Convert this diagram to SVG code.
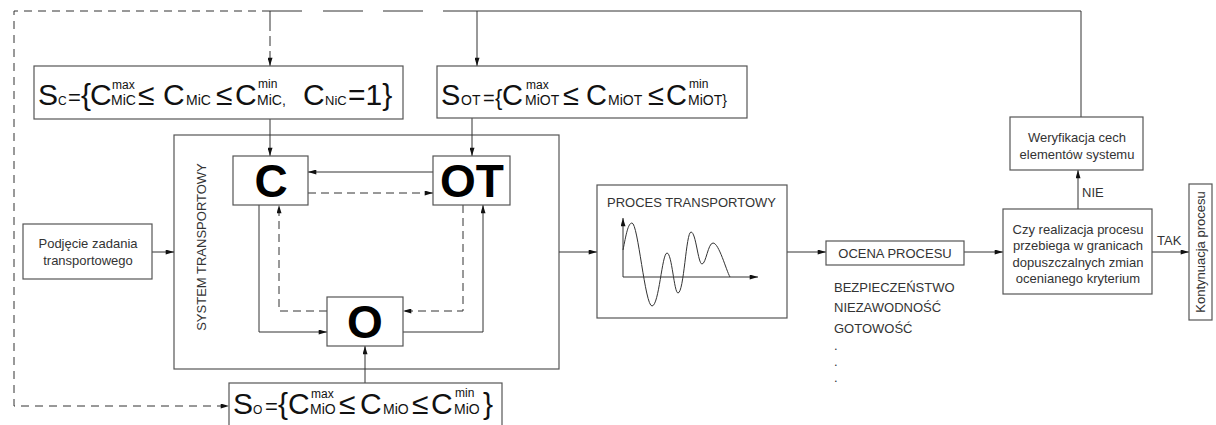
<svg xmlns="http://www.w3.org/2000/svg" width="1216" height="425" viewBox="0 0 1216 425">
<style>
.box{fill:#fff;stroke:#555;stroke-width:1.2}
.frame{fill:none;stroke:#555;stroke-width:1.2}
.ln{fill:none;stroke:#333;stroke-width:1}
.dash{stroke-dasharray:8 5}
.t{font-family:"Liberation Sans",Arial,sans-serif;fill:#333;font-size:13px}
.f{font-family:"Liberation Sans",Arial,sans-serif;fill:#111}
.big{font-family:"Liberation Sans",Arial,sans-serif;font-weight:bold;fill:#000;font-size:46px;text-anchor:middle}
</style>
<defs>
<marker id="ah" viewBox="0 0 10 6" refX="10" refY="3" markerWidth="9" markerHeight="5" orient="auto" markerUnits="userSpaceOnUse"><path d="M0,0 L10,3 L0,6 z" fill="#111"/></marker>
</defs>
<rect width="1216" height="425" fill="#fff"/>

<g id="node-system">
<rect class="frame" x="174" y="135" width="385" height="234"/>
<text class="t" transform="translate(206,247) rotate(-90)" text-anchor="middle" font-size="12.5" fill="#666">SYSTEM TRANSPORTOWY</text>
</g>

<g id="connectors">
<path class="ln" d="M270,11 H14 V406 H229" stroke-dasharray="8 6" marker-end="url(#ah)"/>
<path class="ln" d="M270,11 H443" stroke-dasharray="32 21 40 20 40 20"/>
<path class="ln" d="M1081,117 V11 H443"/>
<path class="ln" d="M270,11 V66" stroke-dasharray="20 5 10 5" marker-end="url(#ah)"/>
<path class="ln" d="M477,11 V66" marker-end="url(#ah)"/>
<path class="ln" d="M270,119 V156" marker-end="url(#ah)"/>
<path class="ln" d="M472,118 V156" marker-end="url(#ah)"/>
<path class="ln" d="M433,172 H308" marker-end="url(#ah)"/>
<path class="ln dash" d="M308,193 H433" marker-end="url(#ah)"/>
<path class="ln" d="M259,205 V332 H327" marker-end="url(#ah)"/>
<path class="ln dash" d="M327,311 H279 V205" marker-end="url(#ah)"/>
<path class="ln dash" d="M463,205 V311 H403" marker-end="url(#ah)"/>
<path class="ln" d="M403,332 H483 V205" marker-end="url(#ah)"/>
<path class="ln" d="M365,383 V346" marker-end="url(#ah)"/>
<path class="ln" d="M152,252 H174" marker-end="url(#ah)"/>
<path class="ln" d="M559,252 H597" marker-end="url(#ah)"/>
<path class="ln" d="M787,252 H826" marker-end="url(#ah)"/>
<path class="ln" d="M964,252 H1003" marker-end="url(#ah)"/>
<path class="ln" d="M1078,209 V170" marker-end="url(#ah)"/>
<path class="ln" d="M1152,252 H1189" marker-end="url(#ah)"/>
<text class="t" x="1082" y="197">NIE</text>
<text class="t" x="1157" y="245">TAK</text>
</g>

<g id="node-sc">
<rect class="box" x="34" y="66" width="369" height="53"/>
<text class="f" y="105" font-size="30">
<tspan x="38">S</tspan><tspan x="58" font-size="12">C</tspan><tspan x="68" font-size="22">=</tspan><tspan x="81">{</tspan><tspan x="90">C</tspan><tspan x="112" y="89" font-size="12">max</tspan><tspan x="111" y="105" font-size="14">MiC</tspan><tspan x="138">≤</tspan><tspan x="163">C</tspan><tspan x="186" font-size="14">MiC</tspan><tspan x="216">≤</tspan><tspan x="235">C</tspan><tspan x="258" y="88" font-size="12">min</tspan><tspan x="257" y="105" font-size="14">MiC,</tspan><tspan x="303">C</tspan><tspan x="325" font-size="13">NiC</tspan><tspan x="348">=1}</tspan>
</text>
</g>

<g id="node-sot">
<rect class="box" x="437" y="66" width="310" height="52"/>
<text class="f" y="105" font-size="29">
<tspan x="441">S</tspan><tspan x="461" font-size="14">OT</tspan><tspan x="483" font-size="20">=</tspan><tspan x="495" font-size="22">{</tspan><tspan x="502">C</tspan><tspan x="526" y="89" font-size="12">max</tspan><tspan x="525" y="105" font-size="14">MiOT</tspan><tspan x="563">≤</tspan><tspan x="586">C</tspan><tspan x="608" font-size="14">MiOT</tspan><tspan x="648">≤</tspan><tspan x="666">C</tspan><tspan x="689" y="88" font-size="12">min</tspan><tspan x="688" y="105" font-size="14">MiOT}</tspan>
</text>
</g>

<g id="node-so">
<rect class="box" x="229" y="383" width="273" height="50"/>
<text class="f" y="414" font-size="30">
<tspan x="233">S</tspan><tspan x="253" font-size="12">O</tspan><tspan x="265" font-size="22">=</tspan><tspan x="278">{</tspan><tspan x="288">C</tspan><tspan x="311" y="398" font-size="12">max</tspan><tspan x="310" y="414" font-size="14">MiO</tspan><tspan x="339">≤</tspan><tspan x="360">C</tspan><tspan x="383" font-size="14">MiO</tspan><tspan x="412">≤</tspan><tspan x="431">C</tspan><tspan x="455" y="397" font-size="12">min</tspan><tspan x="454" y="414" font-size="14">MiO</tspan><tspan x="483">}</tspan>
</text>
</g>

<g id="node-c">
<rect class="box" x="233" y="156" width="75" height="49"/>
<text class="big" x="271" y="197">C</text>
</g>

<g id="node-ot">
<rect class="box" x="433" y="156" width="77" height="49"/>
<text class="big" x="472" y="197">OT</text>
</g>

<g id="node-o">
<rect class="box" x="327" y="297" width="76" height="49"/>
<text class="big" x="365" y="338">O</text>
</g>

<g id="node-podjecie">
<rect class="box" x="23" y="224" width="129" height="55"/>
<text class="t" x="88" y="248" text-anchor="middle">Podjęcie zadania</text>
<text class="t" x="88" y="265" text-anchor="middle">transportowego</text>
</g>

<g id="node-proces">
<rect class="box" x="597" y="185" width="190" height="133"/>
<text class="t" x="607" y="207">PROCES TRANSPORTOWY</text>
<path class="ln" d="M623,277 V218" marker-end="url(#ah)"/>
<path class="ln" d="M623,277 H758" marker-end="url(#ah)"/>
<path class="ln" d="M623,250 C626,235 628,223 632,223 C638,223 645,306 652,306 C659,306 662,253 667,253 C672,253 674,293 678,293 C684,293 686,232 691,232 C696,232 698,264 702,264 C706,264 708,243 713,243 C719,243 726,270 730,277"/>
</g>

<g id="node-ocena">
<rect class="box" x="826" y="241" width="138" height="24"/>
<text class="t" x="895" y="258" text-anchor="middle">OCENA PROCESU</text>
</g>

<g id="node-kryteria">
<text class="t" x="834" y="292">BEZPIECZEŃSTWO</text>
<text class="t" x="834" y="312">NIEZAWODNOŚĆ</text>
<text class="t" x="834" y="333">GOTOWOŚĆ</text>
<text class="t" x="834" y="350" fill="#999">.</text>
<text class="t" x="834" y="366" fill="#999">.</text>
<text class="t" x="834" y="382" fill="#999">.</text>
</g>

<g id="node-decyzja">
<rect class="box" x="1003" y="209" width="149" height="85"/>
<text class="t" x="1078" y="234" text-anchor="middle">Czy realizacja procesu</text>
<text class="t" x="1078" y="250" text-anchor="middle">przebiega w granicach</text>
<text class="t" x="1078" y="267" text-anchor="middle">dopuszczalnych zmian</text>
<text class="t" x="1078" y="283" text-anchor="middle">ocenianego kryterium</text>
</g>

<g id="node-weryfikacja">
<rect class="box" x="1010" y="117" width="133" height="53"/>
<text class="t" x="1077" y="142" text-anchor="middle">Weryfikacja cech</text>
<text class="t" x="1077" y="159" text-anchor="middle">elementów systemu</text>
</g>

<g id="node-kontynuacja">
<rect class="box" x="1189" y="184" width="23" height="136"/>
<text class="t" transform="translate(1205,252) rotate(-90)" text-anchor="middle">Kontynuacja procesu</text>
</g>
</svg>
